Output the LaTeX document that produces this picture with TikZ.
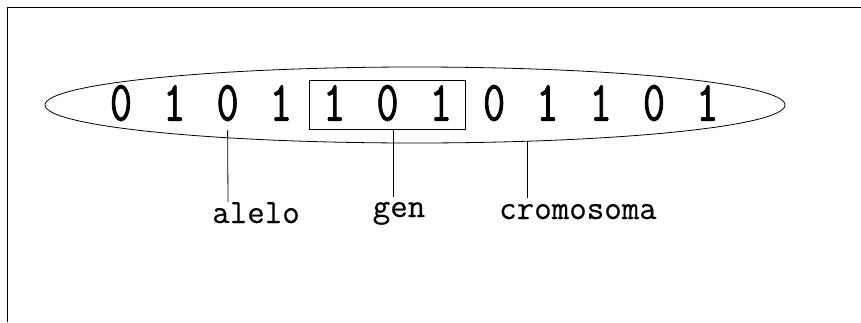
\documentclass[tikz,border=0pt]{standalone}
\usepackage{fontspec}
\newfontfamily\digitfont{Latin Modern Mono}[FakeStretch=0.75,FakeBold=1.3]
\newfontfamily\labelfont{Latin Modern Mono}[FakeBold=0.3]
\usetikzlibrary{shapes.geometric}
\begin{document}
\begin{tikzpicture}[x=1pt,y=-1pt,
  bit/.style={font=\digitfont\fontsize{57}{57}\selectfont, inner sep=0pt, anchor=center},
  tag/.style={font=\labelfont\fontsize{34}{34}\selectfont, inner sep=0pt, anchor=base},
  lead/.style={line width=0.8pt},
  outline/.style={draw, line width=0.8pt, inner sep=0pt}]
\useasboundingbox (0,0) rectangle (861,322);
% frame
\draw[line width=1pt] (7,322) -- (7,7) -- (861,7);
% chromosome
\node[outline, ellipse, minimum width=740pt, minimum height=76pt] (chrom) at (415,105) {};
% bits
\foreach \b [count=\i] in {0,1,0,1,1,0,1,0,1,1,0,1}
  \node[bit] (d\i) at ({121+53.3*(\i-1)},103) {\b};
% gene box
\node[outline, rectangle, minimum width=156pt, minimum height=49pt] (gene) at (387,104.5) {};
% labels
\node[tag] (alelo) at (256,223) {alelo};
\node[tag] (gen) at (399,217) {gen};
\node[tag] (cromosoma) at (578,219) {cromosoma};
% leader lines
\coordinate (aleloTop) at (228,202);
\coordinate (genTop) at (393,197);
\coordinate (cromTop) at (527,198);
\draw[lead] ([yshift=-9pt]d3.south) -- (aleloTop);
\draw[lead] (genTop |- gene.south) -- (genTop);
\draw[lead] (cromTop |- chrom.-17.9) -- (cromTop);
\end{tikzpicture}
\end{document}
